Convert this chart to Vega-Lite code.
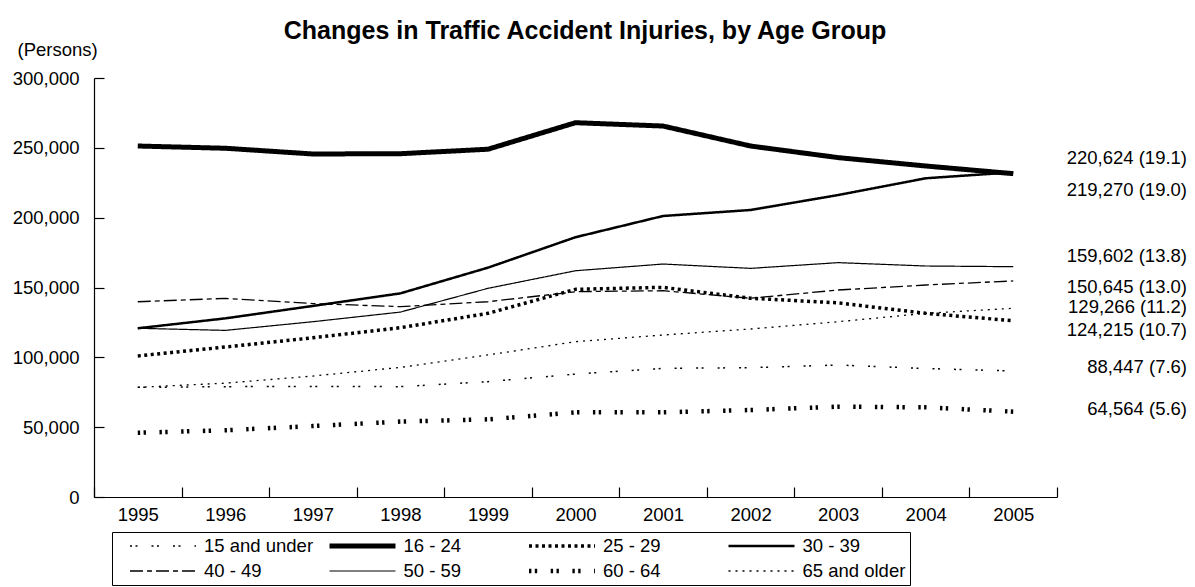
{
  "$schema": "https://vega.github.io/schema/vega-lite/v6.json",
  "width": 963,
  "height": 419,
  "autosize": {"type": "none"},
  "padding": {"left": 94, "top": 78, "right": 138, "bottom": 90},
  "title": {
    "text": "Changes in Traffic Accident Injuries, by Age Group",
    "fontSize": 25,
    "fontWeight": "bold",
    "font": "Liberation Sans",
    "color": "#000000",
    "anchor": "middle",
    "frame": "group",
    "baseline": "alphabetic",
    "dx": 9.5,
    "dy": 31,
    "offset": 7
  },
  "datasets": {
    "series": [
      {"year": "1995", "group": "15 and under", "value": 78500},
      {"year": "1996", "group": "15 and under", "value": 79000},
      {"year": "1997", "group": "15 and under", "value": 79200},
      {"year": "1998", "group": "15 and under", "value": 79000},
      {"year": "1999", "group": "15 and under", "value": 82600},
      {"year": "2000", "group": "15 and under", "value": 88000},
      {"year": "2001", "group": "15 and under", "value": 92100},
      {"year": "2002", "group": "15 and under", "value": 92600},
      {"year": "2003", "group": "15 and under", "value": 94500},
      {"year": "2004", "group": "15 and under", "value": 92000},
      {"year": "2005", "group": "15 and under", "value": 90200},
      {"year": "1995", "group": "16 - 24", "value": 251300},
      {"year": "1996", "group": "16 - 24", "value": 249700},
      {"year": "1997", "group": "16 - 24", "value": 245600},
      {"year": "1998", "group": "16 - 24", "value": 245800},
      {"year": "1999", "group": "16 - 24", "value": 249000},
      {"year": "2000", "group": "16 - 24", "value": 268000},
      {"year": "2001", "group": "16 - 24", "value": 265600},
      {"year": "2002", "group": "16 - 24", "value": 251300},
      {"year": "2003", "group": "16 - 24", "value": 243000},
      {"year": "2004", "group": "16 - 24", "value": 237000},
      {"year": "2005", "group": "16 - 24", "value": 231500},
      {"year": "1995", "group": "25 - 29", "value": 101000},
      {"year": "1996", "group": "25 - 29", "value": 107400},
      {"year": "1997", "group": "25 - 29", "value": 114000},
      {"year": "1998", "group": "25 - 29", "value": 121200},
      {"year": "1999", "group": "25 - 29", "value": 131500},
      {"year": "2000", "group": "25 - 29", "value": 148700},
      {"year": "2001", "group": "25 - 29", "value": 150100},
      {"year": "2002", "group": "25 - 29", "value": 142300},
      {"year": "2003", "group": "25 - 29", "value": 139000},
      {"year": "2004", "group": "25 - 29", "value": 131500},
      {"year": "2005", "group": "25 - 29", "value": 126200},
      {"year": "1995", "group": "30 - 39", "value": 120800},
      {"year": "1996", "group": "30 - 39", "value": 127900},
      {"year": "1997", "group": "30 - 39", "value": 136800},
      {"year": "1998", "group": "30 - 39", "value": 145800},
      {"year": "1999", "group": "30 - 39", "value": 164200},
      {"year": "2000", "group": "30 - 39", "value": 186000},
      {"year": "2001", "group": "30 - 39", "value": 201200},
      {"year": "2002", "group": "30 - 39", "value": 205500},
      {"year": "2003", "group": "30 - 39", "value": 216200},
      {"year": "2004", "group": "30 - 39", "value": 228200},
      {"year": "2005", "group": "30 - 39", "value": 232500},
      {"year": "1995", "group": "40 - 49", "value": 139800},
      {"year": "1996", "group": "40 - 49", "value": 142200},
      {"year": "1997", "group": "40 - 49", "value": 138500},
      {"year": "1998", "group": "40 - 49", "value": 136300},
      {"year": "1999", "group": "40 - 49", "value": 139800},
      {"year": "2000", "group": "40 - 49", "value": 147000},
      {"year": "2001", "group": "40 - 49", "value": 147700},
      {"year": "2002", "group": "40 - 49", "value": 142300},
      {"year": "2003", "group": "40 - 49", "value": 148200},
      {"year": "2004", "group": "40 - 49", "value": 151800},
      {"year": "2005", "group": "40 - 49", "value": 154700},
      {"year": "1995", "group": "50 - 59", "value": 120800},
      {"year": "1996", "group": "50 - 59", "value": 119300},
      {"year": "1997", "group": "50 - 59", "value": 125500},
      {"year": "1998", "group": "50 - 59", "value": 132400},
      {"year": "1999", "group": "50 - 59", "value": 149400},
      {"year": "2000", "group": "50 - 59", "value": 162000},
      {"year": "2001", "group": "50 - 59", "value": 166800},
      {"year": "2002", "group": "50 - 59", "value": 163700},
      {"year": "2003", "group": "50 - 59", "value": 167800},
      {"year": "2004", "group": "50 - 59", "value": 165400},
      {"year": "2005", "group": "50 - 59", "value": 164900},
      {"year": "1995", "group": "60 - 64", "value": 46000},
      {"year": "1996", "group": "60 - 64", "value": 47800},
      {"year": "1997", "group": "60 - 64", "value": 50800},
      {"year": "1998", "group": "60 - 64", "value": 54000},
      {"year": "1999", "group": "60 - 64", "value": 55600},
      {"year": "2000", "group": "60 - 64", "value": 60600},
      {"year": "2001", "group": "60 - 64", "value": 60600},
      {"year": "2002", "group": "60 - 64", "value": 62300},
      {"year": "2003", "group": "60 - 64", "value": 64700},
      {"year": "2004", "group": "60 - 64", "value": 64200},
      {"year": "2005", "group": "60 - 64", "value": 61100},
      {"year": "1995", "group": "65 and older", "value": 78500},
      {"year": "1996", "group": "65 and older", "value": 81500},
      {"year": "1997", "group": "65 and older", "value": 86600},
      {"year": "1998", "group": "65 and older", "value": 92800},
      {"year": "1999", "group": "65 and older", "value": 101700},
      {"year": "2000", "group": "65 and older", "value": 111200},
      {"year": "2001", "group": "65 and older", "value": 116000},
      {"year": "2002", "group": "65 and older", "value": 120300},
      {"year": "2003", "group": "65 and older", "value": 125500},
      {"year": "2004", "group": "65 and older", "value": 131500},
      {"year": "2005", "group": "65 and older", "value": 135100}
    ],
    "labels": [
      {"text": "220,624 (19.1)", "at": 242700},
      {"text": "219,270 (19.0)", "at": 219800},
      {"text": "159,602 (13.8)", "at": 172400},
      {"text": "150,645 (13.0)", "at": 150400},
      {"text": "129,266 (11.2)", "at": 136100},
      {"text": "124,215 (10.7)", "at": 119600},
      {"text": "88,447 (7.6)", "at": 93300},
      {"text": "64,564 (5.6)", "at": 63100}
    ]
  },
  "layer": [
    {
      "data": {"name": "series"},
      "mark": {"type": "line", "color": "#000000", "strokeCap": "butt", "strokeJoin": "round"},
      "encoding": {
        "x": {
          "field": "year",
          "type": "ordinal",
          "scale": {"type": "band", "paddingInner": 0, "paddingOuter": 0},
          "axis": {
            "title": null,
            "labelAngle": 0,
            "tickBand": "extent",
            "tickSize": -10,
            "labelPadding": 18,
            "domainColor": "#000000",
            "tickColor": "#000000",
            "domainWidth": 1.2,
            "tickWidth": 1.2
          }
        },
        "y": {
          "field": "value",
          "type": "quantitative",
          "scale": {"domain": [0, 300000], "nice": false},
          "axis": {
            "values": [0, 50000, 100000, 150000, 200000, 250000, 300000],
            "format": ",.0f",
            "grid": false,
            "tickSize": -10,
            "labelPadding": 25,
            "domainColor": "#000000",
            "tickColor": "#000000",
            "domainWidth": 1.2,
            "tickWidth": 1.2,
            "title": "(Persons)",
            "titleAngle": 0,
            "titleX": -77,
            "titleY": -23,
            "titleAlign": "left",
            "titleBaseline": "alphabetic",
            "titleFontWeight": "normal",
            "titleFontSize": 18.5,
            "titleColor": "#000000"
          }
        },
        "strokeDash": {
          "field": "group",
          "type": "nominal",
          "scale": {
            "type": "ordinal",
            "domain": ["15 and under", "16 - 24", "25 - 29", "30 - 39", "40 - 49", "50 - 59", "60 - 64", "65 and older"],
            "range": [[2, 3.5, 2, 14], [1, 0], [3, 3.5], [1, 0], [13, 4, 5, 4], [1, 0], [2.4, 3.4, 2.4, 13.5], [2, 5]]
          },
          "legend": {"title": null}
        },
        "strokeWidth": {
          "field": "group",
          "type": "nominal",
          "scale": {
            "type": "ordinal",
            "domain": ["15 and under", "16 - 24", "25 - 29", "30 - 39", "40 - 49", "50 - 59", "60 - 64", "65 and older"],
            "range": [1.5, 5, 3.5, 2.5, 1.3, 1.2, 4.5, 1.3]
          },
          "legend": {"title": null}
        }
      }
    },
    {
      "data": {"name": "labels"},
      "mark": {"type": "text", "align": "right", "baseline": "middle", "dx": 173.8, "fontSize": 18.5, "font": "Liberation Sans", "color": "#000000"},
      "encoding": {
        "x": {"datum": "2005", "type": "ordinal"},
        "y": {"field": "at", "type": "quantitative"},
        "text": {"field": "text", "type": "nominal"}
      }
    }
  ],
  "config": {
    "font": "Liberation Sans",
    "view": {"stroke": null},
    "axis": {"labelFontSize": 18.5, "labelColor": "#000000", "labelFont": "Liberation Sans"},
    "legend": {
      "orient": "none",
      "legendX": 18,
      "legendY": 454,
      "direction": "horizontal",
      "columns": 4,
      "gridAlign": "all",
      "symbolType": "stroke",
      "symbolSize": 4356,
      "symbolStrokeColor": "#000000",
      "symbolOffset": 11,
      "clipHeight": 19,
      "labelFontSize": 18.5,
      "labelColor": "#000000",
      "labelFont": "Liberation Sans",
      "labelOffset": 5.5,
      "labelLimit": 300,
      "rowPadding": 6,
      "columnPadding": 2.5,
      "padding": 4.5,
      "strokeColor": "#000000",
      "strokeWidth": 1
    }
  }
}
